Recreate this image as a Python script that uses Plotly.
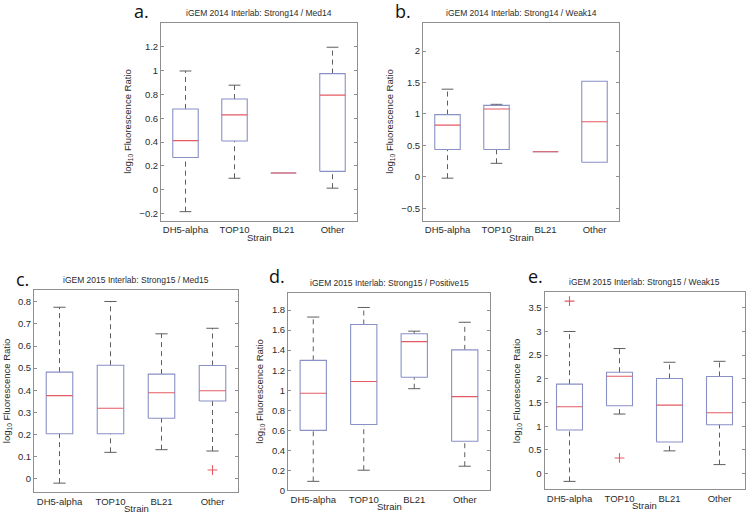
import plotly.graph_objects as go

W, H = 747, 519

strains = ["DH5-alpha", "TOP10", "BL21", "Other"]

# (a) iGEM 2014 Interlab: Strong14 / Med14
a_low  = [-0.183, 0.097, 0.141, 0.014]
a_q1   = [0.271, 0.409, 0.141, 0.155]
a_med  = [0.412, 0.628, 0.141, 0.794]
a_q3   = [0.678, 0.761, 0.141, 0.974]
a_high = [0.996, 0.877, 0.141, 1.195]
a_out_strain, a_out_val = [], []

# (b) iGEM 2014 Interlab: Strong14 / Weak14
b_low  = [-0.021, 0.215, 0.398, 0.231]
b_q1   = [0.435, 0.435, 0.398, 0.231]
b_med  = [0.823, 1.080, 0.398, 0.875]
b_q3   = [0.990, 1.137, 0.398, 1.520]
b_high = [1.394, 1.153, 0.398, 1.520]
b_out_strain, b_out_val = [], []

# (c) iGEM 2015 Interlab: Strong15 / Med15
c_low  = [-0.019, 0.120, 0.132, 0.126]
c_q1   = [0.204, 0.204, 0.274, 0.352]
c_med  = [0.376, 0.319, 0.389, 0.398]
c_q3   = [0.482, 0.513, 0.473, 0.512]
c_high = [0.775, 0.801, 0.655, 0.680]
c_out_strain, c_out_val = ["Other"], [0.040]

# (d) iGEM 2015 Interlab: Strong15 / Positive15
d_low  = [0.089, 0.200, 1.015, 0.240]
d_q1   = [0.598, 0.657, 1.130, 0.489]
d_med  = [0.969, 1.087, 1.485, 0.936]
d_q3   = [1.298, 1.656, 1.564, 1.403]
d_high = [1.731, 1.827, 1.590, 1.679]
d_out_strain, d_out_val = [], []

# (e) iGEM 2015 Interlab: Strong15 / Weak15
e_low  = [-0.164, 1.257, 0.480, 0.190]
e_q1   = [0.920, 1.432, 0.668, 1.032]
e_med  = [1.410, 2.056, 1.446, 1.285]
e_q3   = [1.888, 2.140, 2.007, 2.050]
e_high = [3.000, 2.640, 2.350, 2.370]
e_out_strain, e_out_val = ["DH5-alpha", "TOP10"], [3.64, 0.33]

# y tick values per panel
a_ticks = [-0.2, 0, 0.2, 0.4, 0.6, 0.8, 1, 1.2]
b_ticks = [-0.5, 0, 0.5, 1, 1.5, 2]
c_ticks = [0, 0.1, 0.2, 0.3, 0.4, 0.5, 0.6, 0.7, 0.8]
d_ticks = [0, 0.2, 0.4, 0.6, 0.8, 1, 1.2, 1.4, 1.6, 1.8]
e_ticks = [0, 0.5, 1, 1.5, 2, 2.5, 3, 3.5]

panels = [
    dict(letter="a.", title="iGEM 2014 Interlab: Strong14 / Med14",
         low=a_low, q1=a_q1, med=a_med, q3=a_q3, high=a_high,
         os=a_out_strain, ov=a_out_val, ticks=a_ticks, yr=[-0.26, 1.40],
         box=(161, 23, 357, 223), lpos=(141, 11), ytoff=33),
    dict(letter="b.", title="iGEM 2014 Interlab: Strong14 / Weak14",
         low=b_low, q1=b_q1, med=b_med, q3=b_q3, high=b_high,
         os=b_out_strain, ov=b_out_val, ticks=b_ticks, yr=[-0.70, 2.45],
         box=(423, 23, 619, 223), lpos=(403, 11), ytoff=33),
    dict(letter="c.", title="iGEM 2015 Interlab: Strong15 / Med15",
         low=c_low, q1=c_q1, med=c_med, q3=c_q3, high=c_high,
         os=c_out_strain, ov=c_out_val, ticks=c_ticks, yr=[-0.06, 0.852],
         box=(34, 293, 238, 497), lpos=(22, 282), ytoff=27),
    dict(letter="d.", title="iGEM 2015 Interlab: Strong15 / Positive15",
         low=d_low, q1=d_q1, med=d_med, q3=d_q3, high=d_high,
         os=d_out_strain, ov=d_out_val, ticks=d_ticks, yr=[0, 1.97],
         box=(288, 296, 490, 495), lpos=(277, 279), ytoff=28),
    dict(letter="e.", title="iGEM 2015 Interlab: Strong15 / Weak15",
         low=e_low, q1=e_q1, med=e_med, q3=e_q3, high=e_high,
         os=e_out_strain, ov=e_out_val, ticks=e_ticks, yr=[-0.33, 3.83],
         box=(544.5, 295, 744.5, 494), lpos=(535, 279), ytoff=28),
]

BOX_C = "#8890c4"
MED_C = "#e25a62"
WHIS_C = "#5e5e5e"
FRAME_C = "#8f8f8f"
TXT_C = "#2b2b2b"
FONT = "Liberation Sans, Arial, sans-serif"
BHW = 0.26   # box half width
CHW = 0.12   # cap half width

fig = go.Figure()
layout = dict(width=W, height=H, margin=dict(l=0, r=0, t=0, b=0),
              paper_bgcolor="white", plot_bgcolor="white", showlegend=False)
annotations = []

for k, p in enumerate(panels, start=1):
    xa = "x" if k == 1 else f"x{k}"
    ya = "y" if k == 1 else f"y{k}"
    pos = list(range(1, len(strains) + 1))
    bx, by, wx, wy, cx, cy, mx, my = [], [], [], [], [], [], [], []
    for i, s in enumerate(strains):
        x = pos[i]
        lo, q1, md, q3, hi = p["low"][i], p["q1"][i], p["med"][i], p["q3"][i], p["high"][i]
        bx += [x - BHW, x + BHW, x + BHW, x - BHW, x - BHW, None]
        by += [q1, q1, q3, q3, q1, None]
        if hi > q3:
            wx += [x, x, None]; wy += [q3, hi, None]
            cx += [x - CHW, x + CHW, None]; cy += [hi, hi, None]
        if lo < q1:
            wx += [x, x, None]; wy += [lo, q1, None]
            cx += [x - CHW, x + CHW, None]; cy += [lo, lo, None]
        mx += [x - BHW, x + BHW, None]; my += [md, md, None]
    fig.add_trace(go.Scatter(x=wx, y=wy, mode="lines", xaxis=xa, yaxis=ya,
                             line=dict(color=WHIS_C, width=1, dash="5px,4px"), hoverinfo="skip"))
    fig.add_trace(go.Scatter(x=cx, y=cy, mode="lines", xaxis=xa, yaxis=ya,
                             line=dict(color=WHIS_C, width=1), hoverinfo="skip"))
    fig.add_trace(go.Scatter(x=bx, y=by, mode="lines", xaxis=xa, yaxis=ya,
                             line=dict(color=BOX_C, width=1.1), hoverinfo="skip"))
    fig.add_trace(go.Scatter(x=mx, y=my, mode="lines", xaxis=xa, yaxis=ya,
                             line=dict(color=MED_C, width=1.1), hoverinfo="skip"))
    if p["os"]:
        ox = [pos[strains.index(s)] for s in p["os"]]
        fig.add_trace(go.Scatter(x=ox, y=p["ov"], mode="markers", xaxis=xa, yaxis=ya,
                                 marker=dict(symbol="cross-thin", size=7,
                                             line=dict(color=MED_C, width=1.1)),
                                 hoverinfo="skip"))

    l, t, r, b = p["box"]
    xkey = "xaxis" if k == 1 else f"xaxis{k}"
    ykey = "yaxis" if k == 1 else f"yaxis{k}"
    layout[xkey] = dict(domain=[l / W, r / W], anchor=ya, range=[0.5, 4.5],
                        tickvals=pos, ticktext=strains, ticks="",
                        showline=True, mirror=True, linecolor=FRAME_C, linewidth=1,
                        showgrid=False, zeroline=False,
                        tickfont=dict(family=FONT, size=9.5, color=TXT_C))
    layout[ykey] = dict(domain=[1 - b / H, 1 - t / H], anchor=xa, range=p["yr"],
                        tickvals=p["ticks"], ticks="inside", ticklen=3,
                        tickcolor=FRAME_C, showline=True, mirror="ticks",
                        linecolor=FRAME_C, linewidth=1, showgrid=False, zeroline=False,
                        tickfont=dict(family=FONT, size=9.5, color=TXT_C))

    # title
    annotations.append(dict(text=p["title"], xref="paper", yref="paper",
                            x=(l + r) / 2 / W, y=1 - (t - 4) / H, xanchor="center",
                            yanchor="bottom", showarrow=False, borderpad=0,
                            font=dict(family=FONT, size=8.5, color=TXT_C)))
    # panel letter
    annotations.append(dict(text=p["letter"], xref="paper", yref="paper",
                            x=p["lpos"][0] / W, y=1 - p["lpos"][1] / H,
                            xanchor="center", yanchor="middle", showarrow=False,
                            borderpad=0,
                            font=dict(family="Open Sans, sans-serif", size=18, color="#111")))
    # y title
    annotations.append(dict(text="log<sub>10</sub> Fluorescence Ratio", xref="paper",
                            yref="paper", x=(l - p["ytoff"]) / W, y=1 - (t + b) / 2 / H,
                            xanchor="center", yanchor="middle", textangle=-90,
                            showarrow=False, borderpad=0,
                            font=dict(family=FONT, size=9.5, color=TXT_C)))
    # x title
    annotations.append(dict(text="Strain", xref="paper", yref="paper",
                            x=(l + r) / 2 / W, y=1 - (b + 16.5) / H, xanchor="center",
                            yanchor="middle", showarrow=False, borderpad=0,
                            font=dict(family=FONT, size=9.5, color=TXT_C)))

layout["annotations"] = annotations
fig.update_layout(**layout)
fig.write_html("out.html", config={"displayModeBar": False},
               post_script="document.body.style.margin='0';document.body.style.padding='0';")
